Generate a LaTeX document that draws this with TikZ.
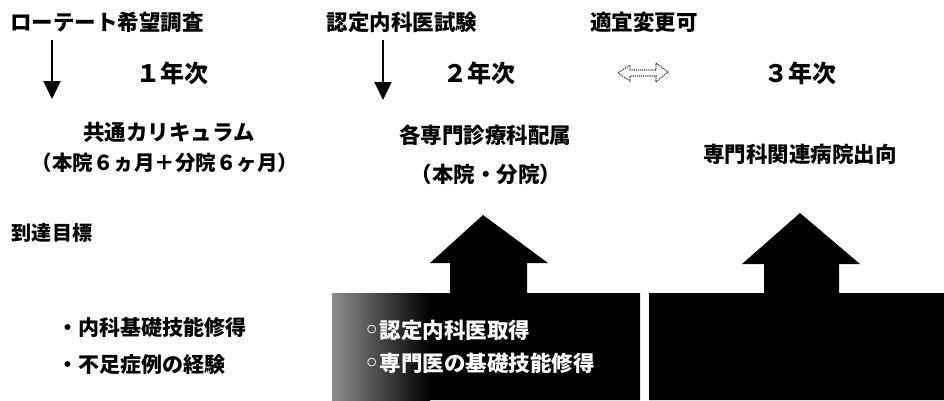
\documentclass[tikz,border=0pt]{standalone}
\usepackage{fontspec}
\setmainfont{Noto Sans CJK JP}
\newfontfamily\symf{DejaVu Sans}
\usetikzlibrary{arrows.meta}
\tikzset{
  lbl/.style={inner sep=0pt, font=\bfseries\fontsize{21.5}{25}\selectfont},
  goallbl/.style={inner sep=0pt, font=\bfseries\fontsize{20}{24}\selectfont},
  yearlbl/.style={inner sep=0pt, font=\bfseries\fontsize{24}{28}\selectfont},
  boxtxt/.style={inner sep=0pt, anchor=west, text=white, font=\bfseries\fontsize{21.5}{25}\selectfont},
  downarrow/.style={line width=2pt, -{Triangle[width=17pt,length=18pt]}},
  swapshape/.style={draw=black!80, line width=1.1pt, densely dotted, fill=white},
  blockfill/.style={fill=black}
}
\begin{document}
\begin{tikzpicture}[x=1pt,y=-1pt]
\useasboundingbox[fill=white] (0,0) rectangle (944,400);

% top labels
\node[lbl] (survey) at (107,22) {ローテート希望調査};
\node[lbl] (exam) at (402,22) {認定内科医試験};
\node[lbl] (change) at (644,22) {適宜変更可};

% year labels
\node[yearlbl] (y1) at (172,73) {１年次};
\node[yearlbl] (y2) at (479,73) {２年次};
\node[yearlbl] (y3) at (800,73) {３年次};

% down arrows
\coordinate (a1s) at (52,40);
\coordinate (a1e) at (52,99);
\coordinate (a2s) at (383,40);
\coordinate (a2e) at (383,100);
\draw[downarrow] (a1s) -- (a1e);
\draw[downarrow] (a2s) -- (a2e);

% swap (double) arrow symbol
\draw[swapshape] (618,73) -- (630,65) -- (630,70) -- (656,70) -- (656,63)
  -- (668,72) -- (656,82) -- (656,76) -- (630,76) -- (630,81) -- cycle;

% phase descriptions
\node[lbl] (common) at (169,132) {共通カリキュラム};
\node[lbl, font=\bfseries\fontsize{20.5}{25}\selectfont] (commonsub) at (165,163) {（本院６ヵ月＋分院６ヶ月）};
\node[lbl] (dept) at (485,135) {各専門診療科配属};
\node[lbl] (deptsub) at (486,174) {（本院・分院）};
\node[lbl] (out) at (800,154) {専門科関連病院出向};

% goals
\node[goallbl] (goal) at (52,233) {到達目標};
\node[lbl, font=\bfseries\fontsize{21}{25}\selectfont, anchor=west] (g1) at (57,327) {・内科基礎技能修得};
\node[lbl, font=\bfseries\fontsize{21}{25}\selectfont, anchor=west] (g2) at (57,365) {・不足症例の経験};

% block 2 with arrow
\fill[blockfill] (332,400) -- (332,293) -- (450,293) -- (450,263) -- (430,263)
  -- (483,215) -- (548,263) -- (527,263) -- (527,293) -- (640,293) -- (640,400) -- cycle;
\shade[left color=black!45, right color=black] (332,293) rectangle (430,400);

% block 3 with arrow
\fill[blockfill] (649,400) -- (649,293) -- (764,293) -- (764,264) -- (742,264)
  -- (800,213) -- (860,264) -- (839,264) -- (839,293) -- (944,293) -- (944,400) -- cycle;

% block 2 texts
\node[boxtxt] (b1) at (364,330) {{\symf\fontsize{24}{26}\selectfont ◦}認定内科医取得};
\node[boxtxt] (b2) at (364,363) {{\symf\fontsize{24}{26}\selectfont ◦}専門医の基礎技能修得};
\end{tikzpicture}
\end{document}
